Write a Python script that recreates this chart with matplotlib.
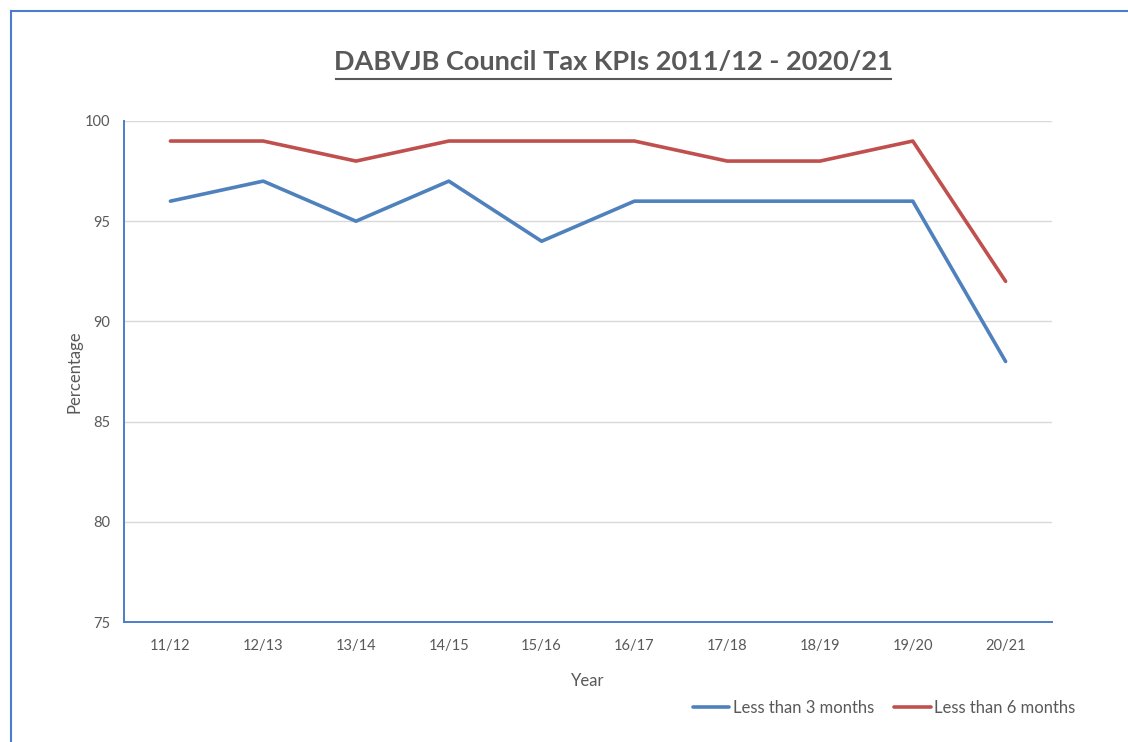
import matplotlib
matplotlib.use("Agg")
import matplotlib.pyplot as plt
from matplotlib.lines import Line2D

years = ["11/12", "12/13", "13/14", "14/15", "15/16", "16/17", "17/18", "18/19", "19/20", "20/21"]
less_3_months = [96, 97, 95, 97, 94, 96, 96, 96, 96, 88]
less_6_months = [99, 99, 98, 99, 99, 99, 98, 98, 99, 92]
y_ticks = [75, 80, 85, 90, 95, 100]

plt.rcParams['font.family'] = ['Lato', 'DejaVu Sans']
gray = "#595959"
blue = "#4F81BD"
red = "#C0504D"
spine_blue = "#4A7EC8"

fig = plt.figure(figsize=(11.28, 7.42), dpi=100)
ax = fig.add_axes([124/1128, 1-622/742, 928/1128, 501/742])

x = list(range(len(years)))
ax.plot(x, less_3_months, color=blue, lw=2.6, label="Less than 3 months", solid_capstyle='round')
ax.plot(x, less_6_months, color=red, lw=2.6, label="Less than 6 months", solid_capstyle='round')

ax.set_xlim(-0.5, len(years) - 0.5)
ax.set_ylim(75, 100)
ax.set_yticks(y_ticks)
ax.set_xticks(x)
ax.set_xticklabels(years)
ax.grid(axis='y', color="#D9D9D9", lw=1)
ax.set_axisbelow(True)
for s in ['top', 'right']:
    ax.spines[s].set_visible(False)
for s in ['left', 'bottom']:
    ax.spines[s].set_color(spine_blue)
    ax.spines[s].set_linewidth(1.4)
ax.tick_params(length=0, colors=gray, labelsize=10.5)
ax.tick_params(axis='x', pad=12)
ax.tick_params(axis='y', pad=10)

ax.set_xlabel("Year", color=gray, fontsize=12)
ax.set_ylabel("Percentage", color=gray, fontsize=12)
ax.xaxis.set_label_coords(0.5, -(681-622)/501)
ax.xaxis.label.set_va('center')
ax.yaxis.set_label_coords(-(124-75)/928, 0.5)
ax.yaxis.label.set_va('center')

fig.text(613/1128, 1-62/742, "DABVJB Council Tax KPIs 2011/12 - 2020/21",
         ha='center', va='center', fontsize=19.5, fontweight='bold', color=gray)
# underline for title
fig.add_artist(Line2D([336/1128, 891/1128], [1-79/742, 1-79/742], color=gray, lw=1.5))

# chart frame
fig.add_artist(Line2D([11/1128, 11/1128], [0, 1-11/742], color=spine_blue, lw=1.5))
fig.add_artist(Line2D([11/1128, 1], [1-11/742, 1-11/742], color=spine_blue, lw=1.5))

fig.legend(loc='center', bbox_to_anchor=(884/1128, 1-708/742), ncol=2, frameon=False,
           fontsize=12, labelcolor=gray, handlelength=2.2, handletextpad=0.2,
           columnspacing=1.2)

fig.savefig("out.png", dpi=100)
